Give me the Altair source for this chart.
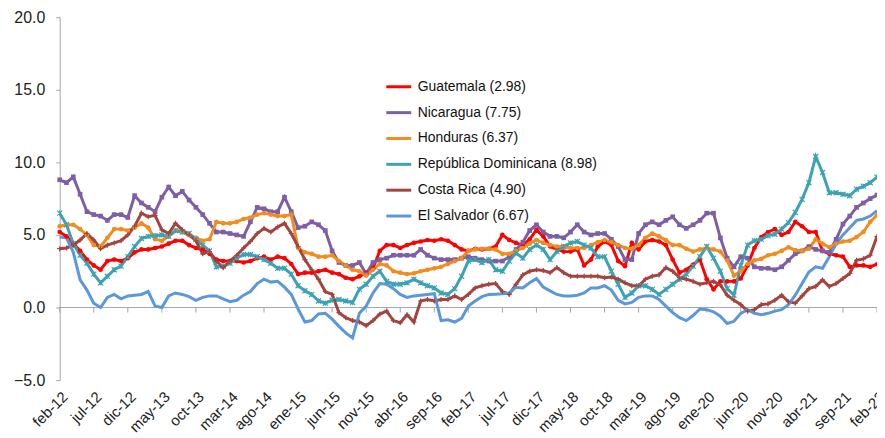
import altair as alt
import pandas as pd

series = ["Guatemala (2.98)", "Nicaragua (7.75)", "Honduras (6.37)",
          "República Dominicana (8.98)", "Costa Rica (4.90)", "El Salvador (6.67)"]
colors = ["#FF0000", "#7D5FA5", "#F28C1E", "#3CA2B4", "#A3443F", "#5A97DB"]

tick_labels = ["feb-12", "jul-12", "dic-12", "may-13", "oct-13", "mar-14", "ago-14",
               "ene-15", "jun-15", "nov-15", "abr-16", "sep-16", "feb-17", "jul-17",
               "dic-17", "may-18", "oct-18", "mar-19", "ago-19", "ene-20", "jun-20",
               "nov-20", "abr-21", "sep-21", "feb-22"]
month_names = ["ene", "feb", "mar", "abr", "may", "jun", "jul", "ago", "sep", "oct", "nov", "dic"]
months = [f"{month_names[(1 + k) % 12]}-{12 + (1 + k) // 12:02d}" for k in range(121)]

guatemala = [
    5.2, 4.9, 4.4, 3.9, 3.3, 2.9, 2.6, 3.2, 3.3, 3.2,
    3.4, 3.8, 4.0, 4.0, 4.1, 4.2, 4.4, 4.6, 4.6, 4.3,
    4.1, 4.0, 3.7, 3.3, 3.2, 3.2, 3.2, 3.1, 3.2, 3.4,
    3.5, 3.3, 3.5, 3.4, 3.0, 2.3, 2.4, 2.4, 2.5, 2.6,
    2.4, 2.3, 2.05, 1.95, 2.15, 2.4, 2.7, 3.9, 4.3, 4.3,
    4.1, 4.3, 4.45, 4.55, 4.65, 4.6, 4.7, 4.6, 4.3, 4.0,
    3.9, 4.05, 4.0, 4.05, 4.2, 5.0, 4.65, 4.45, 4.3, 4.7,
    5.35, 4.9, 4.2, 4.0, 3.85, 3.85, 4.0, 2.9, 3.3, 4.2,
    4.55, 4.3, 3.2, 2.85, 4.45, 4.0, 4.55, 4.65, 4.55, 4.3,
    3.3, 2.4, 2.6, 2.95, 3.3, 1.95, 1.25, 1.8, 1.8, 1.8,
    2.0, 2.9, 4.1, 4.85, 5.2, 5.4, 5.0, 5.2, 5.9, 5.6,
    5.2, 5.2, 3.9, 3.7, 3.6, 3.5, 2.8, 2.9, 2.9, 2.8,
    2.98]
nicaragua = [
    8.8, 8.6, 9.0, 7.8, 6.6, 6.4, 6.3, 6.0, 6.4, 6.4,
    6.2, 7.7, 7.2, 6.9, 6.6, 7.6, 8.3, 7.7, 8.0, 7.4,
    6.9, 6.4, 5.8, 5.2, 5.2, 5.1, 5.0, 4.9, 5.9, 6.9,
    6.8, 6.6, 6.6, 7.6, 6.6, 5.5, 5.6, 5.9, 5.7, 5.3,
    3.9, 3.1, 2.9, 2.9, 3.1, 2.3, 3.1, 3.3, 3.4, 3.6,
    3.6, 3.6, 3.6, 4.0, 3.6, 3.4, 3.3, 3.3, 3.3, 3.4,
    3.5, 3.4, 3.3, 3.2, 3.2, 3.2, 3.5, 4.0, 4.5, 5.3,
    5.7, 5.2, 4.9, 4.9, 4.8, 5.2, 5.7, 5.2, 5.0, 5.1,
    5.1, 4.7, 4.2, 3.3, 3.3, 5.1, 5.7, 5.9, 5.7, 6.0,
    6.25, 5.7, 5.45, 5.7, 6.0, 6.5, 6.5, 4.8, 3.4, 2.8,
    3.5, 3.4, 2.8, 2.7, 2.7, 2.6, 2.8, 3.25, 3.7, 3.9,
    4.2, 4.0, 3.9, 3.8, 4.7, 5.75, 6.3, 6.9, 7.2, 7.5,
    7.75]
honduras = [
    5.6, 5.7, 5.7, 5.4, 5.0, 4.3, 4.2, 4.8, 5.4, 5.4,
    5.3, 5.5, 5.8, 5.5, 4.7, 4.6, 4.9, 5.3, 5.2, 5.0,
    4.8, 4.6, 4.7, 5.9, 5.8, 5.8, 5.9, 6.1, 6.2, 6.4,
    6.5, 6.4, 6.3, 6.3, 6.4, 4.1, 3.8, 3.7, 3.5, 3.5,
    3.6, 3.2, 2.9, 2.6, 2.5, 2.2, 2.6, 3.0, 2.9, 2.5,
    2.4, 2.3, 2.35, 2.5, 2.6, 2.7, 2.8, 3.0, 3.2, 3.4,
    3.9, 4.0, 4.05, 4.05, 4.0, 3.7, 3.7, 3.9, 4.1, 4.4,
    4.65, 4.45, 4.3, 4.2, 4.2, 4.1, 4.1, 4.1, 4.3, 4.5,
    4.65, 4.5, 4.3, 4.1, 4.05, 4.3, 4.8, 5.1, 4.9, 4.65,
    4.3, 4.3, 4.05, 3.85, 4.0, 4.1, 4.0, 3.85, 3.25, 2.2,
    2.5, 3.0, 3.25, 3.35, 3.6, 3.7, 3.9, 4.15, 3.95, 3.9,
    4.05, 4.7, 4.4, 4.15, 4.4, 4.55, 4.6, 4.85, 5.2, 5.9,
    6.37]
rep_dominicana = [
    6.5, 5.7, 4.4, 3.6, 3.05, 2.3, 1.7, 2.15, 2.6, 2.85,
    3.5, 4.2, 4.75, 4.9, 4.95, 5.0, 4.9, 5.3, 5.2, 5.1,
    4.7, 4.3, 3.9, 2.8, 2.85, 3.05, 3.4, 3.65, 3.65, 3.5,
    3.3, 3.05, 2.7, 2.7, 2.3, 1.5, 1.15, 0.9, 0.45, 0.3,
    0.5, 0.55, 0.45, 0.35, 1.25, 1.6, 2.15, 2.5, 1.8, 1.6,
    1.6, 1.7, 1.95, 1.7, 1.5, 1.35, 1.0, 0.9, 1.3, 2.15,
    3.2, 3.3, 3.1, 3.3, 2.6, 2.5, 3.2, 3.75, 3.4, 4.0,
    4.3, 4.0, 3.3, 3.85, 4.2, 4.45, 4.55, 4.3, 4.1, 3.5,
    3.5, 2.5, 1.6, 0.7, 1.0, 1.5, 1.5, 1.25, 0.9, 1.25,
    1.6, 1.95, 2.3, 2.85, 3.5, 4.2, 3.4, 2.5, 1.3, 0.85,
    2.9, 4.3, 4.6, 4.7, 4.95, 5.05, 5.4, 5.85, 6.55, 7.45,
    8.6, 10.4, 9.3, 7.9, 7.9, 7.8, 7.7, 8.15, 8.35, 8.6,
    8.98]
costa_rica = [
    4.05, 4.1, 4.3, 4.65, 5.1, 4.65, 4.05, 4.3, 4.45, 4.6,
    5.0, 5.6, 6.5, 6.25, 6.35, 5.35, 5.1, 5.8, 5.35, 5.0,
    4.6, 3.7, 3.85, 3.2, 2.75, 3.2, 3.6, 4.1, 4.55, 5.1,
    5.45, 5.2, 5.55, 5.8, 5.1, 4.2, 3.3, 2.6, 1.95, 1.1,
    0.9, -0.35, -0.7, -0.9, -1.0, -1.25, -0.9, -0.45, -0.25, -0.9,
    -1.05, -0.5, -1.0, 0.45, 0.55, 0.45, 0.55, 0.55, 0.8, 0.55,
    0.9, 1.35, 1.5, 1.6, 1.65, 1.1, 0.9, 1.6, 2.25, 2.5,
    2.6, 2.55, 2.4, 2.75, 2.4, 2.15, 2.15, 2.15, 2.15, 2.15,
    2.05, 2.1, 1.95, 1.7, 1.5, 1.5, 1.95, 2.15, 2.25, 2.75,
    2.5, 2.05, 1.95, 1.8, 1.6, 1.7, 1.8, 1.55, 0.85, 0.5,
    0.2, -0.25, -0.15, 0.2, 0.25, 0.5, 0.85, 0.4, 0.3, 0.8,
    1.3, 1.45, 1.9, 1.45, 1.65, 2.0, 2.35, 3.25, 3.35, 3.6,
    4.9]
el_salvador = [
    4.85, 4.8, 3.8, 1.9, 1.2, 0.3, 0.0, 0.7, 0.9, 0.6,
    0.8, 0.85, 0.9, 1.1, 0.1, 0.0, 0.8, 1.0, 0.9, 0.75,
    0.5, 0.7, 0.8, 0.8, 0.6, 0.4, 0.5, 0.85, 1.1, 1.65,
    1.95, 1.75, 1.8, 1.4, 0.9, -0.1, -1.0, -0.9, -0.45, -0.4,
    -0.8, -1.3, -1.75, -2.1, -0.4, 0.1, 1.0, 1.65, 1.6, 1.3,
    0.9, 0.7, 0.8, 0.85, 0.9, 0.95, -0.9, -0.85, -1.0, -0.75,
    0.1, 0.45, 0.75, 0.9, 0.92, 0.95, 1.0, 1.4, 1.35, 1.7,
    2.0, 1.4, 1.15, 0.9, 0.8, 0.8, 0.85, 1.0, 1.35, 1.35,
    1.5, 1.2, 0.5, 0.25, 0.35, 0.7, 0.8, 0.8, 0.55, 0.1,
    -0.35, -0.7, -0.9, -0.55, -0.1, -0.15, -0.3, -0.6, -1.1, -0.95,
    -0.4, -0.15, -0.4, -0.5, -0.4, -0.25, -0.15, 0.2, 0.85, 1.65,
    2.45, 2.8, 2.7, 3.5, 4.4, 5.0, 5.5, 6.0, 6.1, 6.3,
    6.67]

values = [guatemala, nicaragua, honduras, rep_dominicana, costa_rica, el_salvador]
rows = []
for s, vals in zip(series, values):
    for m, v in zip(months, vals):
        rows.append({"month": m, "value": v, "series": s})
df = pd.DataFrame(rows)

FONT = "Liberation Sans"

x_enc = alt.X("month:O", sort=None,
              scale=alt.Scale(type="point", padding=0, domain=months),
              axis=alt.Axis(values=tick_labels, labelAngle=-45, labelAlign="right",
                            labelBaseline="top", domain=False, ticks=False,
                            labelPadding=9, labelFontSize=15, labelFont=FONT,
                            labelColor="#222222", title=None, labelOverlap=False))
y_scale = alt.Scale(domain=[-5, 20], nice=False, zero=False)
y_axis = alt.Axis(values=[-5, 0, 5, 10, 15, 20], format=".1f", grid=False, tickSize=4,
                  labelPadding=11, labelFontSize=16, labelFont=FONT, labelColor="#222222",
                  domainColor="#A6A6A6", tickColor="#A6A6A6", title=None)

zero_df = pd.DataFrame({"z": [0.0]})
zero_line = alt.Chart(zero_df).mark_rule(color="#A6A6A6", strokeWidth=1).encode(
    y=alt.Y("z:Q", scale=y_scale, axis=y_axis))

tick_df = pd.DataFrame({"month": tick_labels, "y0": [0.0] * len(tick_labels),
                        "y1": [-0.35] * len(tick_labels)})
ticks = alt.Chart(tick_df).mark_rule(color="#A6A6A6", strokeWidth=1).encode(
    x=x_enc, y=alt.Y("y0:Q", scale=y_scale, axis=y_axis), y2="y1:Q")

lines = alt.Chart(df).mark_line(strokeWidth=3).encode(
    x=x_enc,
    y=alt.Y("value:Q", scale=y_scale, axis=y_axis),
    color=alt.Color("series:N", scale=alt.Scale(domain=series, range=colors),
                    legend=alt.Legend(orient="none", legendX=327, legendY=56, title=None,
                                      symbolType="stroke", symbolSize=625,
                                      symbolStrokeWidth=3, labelFontSize=14,
                                      labelFont=FONT, labelColor="#111111",
                                      labelLimit=0, rowPadding=5, labelOffset=5,
                                      padding=0)),
)

filled_series = series[:3]
filled_pts = alt.Chart(df).transform_filter(
    alt.FieldOneOfPredicate(field="series", oneOf=filled_series)
).mark_point(filled=True, opacity=1, size=22).encode(
    x=x_enc,
    y=alt.Y("value:Q", scale=y_scale, axis=y_axis),
    fill=alt.Fill("series:N", scale=alt.Scale(domain=series, range=colors), legend=None),
    shape=alt.Shape("series:N", scale=alt.Scale(domain=filled_series,
                                                range=["circle", "square", "circle"]),
                    legend=None),
)

stroke_series = [series[3], series[4]]
stroke_pts = alt.Chart(df).transform_filter(
    alt.FieldOneOfPredicate(field="series", oneOf=stroke_series)
).mark_point(filled=False, opacity=1, size=26, strokeWidth=1.2).encode(
    x=x_enc,
    y=alt.Y("value:Q", scale=y_scale, axis=y_axis),
    stroke=alt.Stroke("series:N", scale=alt.Scale(domain=stroke_series,
                                                  range=[colors[3], colors[4]]),
                      legend=None),
    shape=alt.Shape("series:N", scale=alt.Scale(
        domain=stroke_series,
        range=["M-1,-1L1,1M-1,1L1,-1M0,-1L0,1", "M-1,0L1,0M0,-1L0,1"]), legend=None),
)

chart = alt.layer(zero_line, ticks, lines, filled_pts, stroke_pts).resolve_scale(
    shape="independent"
).properties(
    width=822, height=365,
    autosize=alt.AutoSizeParams(type="none"),
    padding={"left": 52, "top": 8, "right": 0, "bottom": 56},
    background="white",
).configure_view(stroke=None)

chart.save("out.html", embed_options={"renderer": "svg", "actions": False})
